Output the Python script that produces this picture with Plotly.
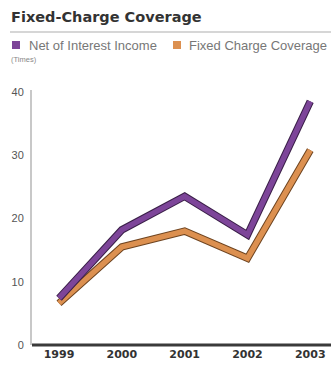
import plotly.graph_objects as go

years = ["1999", "2000", "2001", "2002", "2003"]
net_of_interest = [7.4, 18.2, 23.5, 17.4, 38.5]
fixed_charge = [6.6, 15.5, 18.0, 13.7, 30.8]
y_ticks = [0, 10, 20, 30, 40]

PURPLE = "#7d4599"
ORANGE = "#dc9050"

# pixel geometry helpers
L, R, T, B = 32, 331, 90, 345
def px(p):
    return (p - L) / (R - L)
def py(p):
    return (B - p) / (B - T)

xs = list(range(len(years)))
fig = go.Figure()
for vals, col, dark, name in [(fixed_charge, ORANGE, "#6e4420", "Fixed Charge Coverage"),
                              (net_of_interest, PURPLE, "#3a1f48", "Net of Interest Income")]:
    fig.add_trace(go.Scatter(x=xs, y=vals, mode="lines", showlegend=False,
                             line=dict(color=dark, width=7.5), hoverinfo="skip"))
    fig.add_trace(go.Scatter(x=xs, y=vals, mode="lines", name=name, showlegend=False,
                             line=dict(color=col, width=5.5)))

fig.update_layout(
    width=331, height=387,
    margin=dict(l=L, r=331 - R, t=T, b=387 - B),
    paper_bgcolor="white", plot_bgcolor="white",
    font=dict(family="Liberation Sans, Arial, sans-serif"),
    xaxis=dict(range=[-0.43, 4.33], tickvals=xs, ticktext=["<b>%s</b>" % y for y in years],
               showgrid=False, zeroline=False, showline=False, ticks="",
               tickfont=dict(size=11, color="#333333", family="DejaVu Sans, sans-serif"),
               ticklabelstandoff=1),
    yaxis=dict(range=[0, 40.3], tickvals=y_ticks, showgrid=False, zeroline=False,
               showline=True, linecolor="#c8c8c8", linewidth=2, ticks="",
               tickfont=dict(size=11, color="#555555"), ticklabelstandoff=4),
    shapes=[
        # x axis baseline
        dict(type="line", xref="paper", yref="paper", x0=0, x1=1, y0=py(345), y1=py(345),
             line=dict(color="#3a3a3a", width=3)),
        # title underline
        dict(type="line", xref="paper", yref="paper", x0=px(10), x1=px(331), y0=py(32), y1=py(32),
             line=dict(color="#c8c8c8", width=1.5)),
        # legend swatches
        dict(type="rect", xref="paper", yref="paper", x0=px(12), x1=px(20), y0=py(49), y1=py(41),
             fillcolor=PURPLE, line=dict(width=0)),
        dict(type="rect", xref="paper", yref="paper", x0=px(173), x1=px(181), y0=py(49), y1=py(41),
             fillcolor=ORANGE, line=dict(width=0)),
    ],
    annotations=[
        dict(text="<b>Fixed-Charge Coverage</b>", xref="paper", yref="paper", x=px(9), y=py(17),
             xanchor="left", yanchor="middle", showarrow=False,
             font=dict(size=14.5, color="#333333", family="DejaVu Sans, sans-serif")),
        dict(text="Net of Interest Income", xref="paper", yref="paper", x=px(27), y=py(45.5),
             xanchor="left", yanchor="middle", showarrow=False,
             font=dict(size=13, color="#777777")),
        dict(text="Fixed Charge Coverage", xref="paper", yref="paper", x=px(187), y=py(45.5),
             xanchor="left", yanchor="middle", showarrow=False,
             font=dict(size=13, color="#777777")),
        dict(text="(Times)", xref="paper", yref="paper", x=px(9), y=py(60),
             xanchor="left", yanchor="middle", showarrow=False,
             font=dict(size=7.5, color="#888888")),
    ],
)

fig.write_html("out.html")
